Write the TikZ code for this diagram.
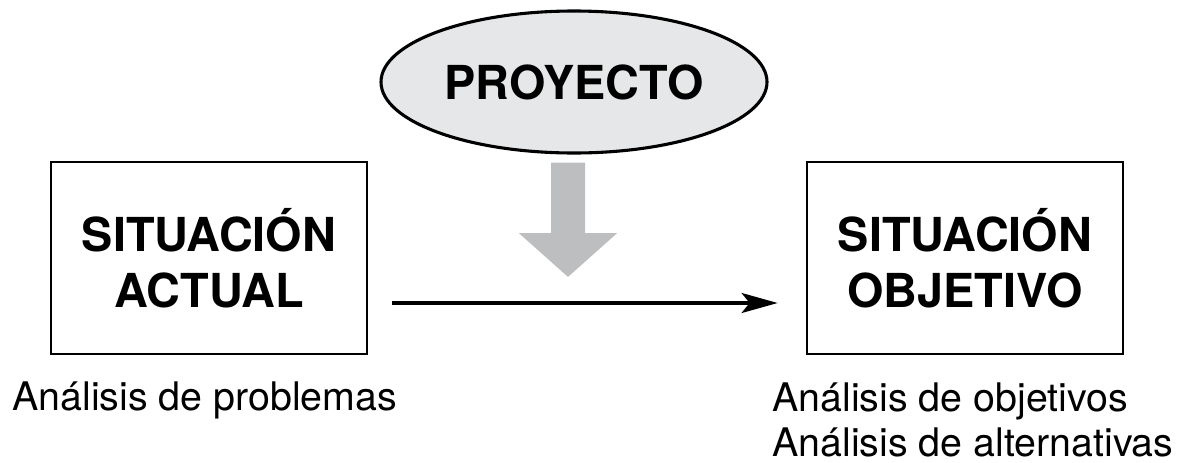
\documentclass[tikz,border=0pt]{standalone}
\usepackage{fontspec}
\setmainfont{TeX Gyre Heros}
\usepackage{tikz}
\usepackage{xcolor}
\usetikzlibrary{shapes.geometric, arrows.meta}

\definecolor{grisclaro}{HTML}{E6E7E8}
\definecolor{grisflecha}{HTML}{BCBEC0}

\begin{document}
\begin{tikzpicture}
            % Define styles
            \tikzstyle{proy} = [ellipse, draw=black, line width=2.2pt, fill=grisclaro, minimum width=9.65cm, minimum height=3.55cm, inner sep=0pt, font=\bfseries\fontsize{33.3}{40}\selectfont]
            \tikzstyle{situacion} = [rectangle, draw=black, line width=2pt, minimum width=7.9cm, minimum height=4.8cm, align=center, font=\bfseries\fontsize{33.3}{39.8}\selectfont]
            \tikzstyle{analisis} = [inner sep=0pt, align=left, font=\fontsize{28}{32}\selectfont]
            \tikzstyle{flecha} = [line width=2.2pt, -{Stealth[length=0.9cm, width=0.5cm, inset=0.2cm]}]
            \tikzstyle{flechagris} = [line width=0.85cm, draw=grisflecha, -{Triangle[length=1.1cm, width=2.4cm]}]

            \useasboundingbox (0,0) rectangle (29.5,-11.575);

            % Project on top
            \node (proyecto) [proy] at (14.35,-2.05) {PROYECTO};
            \coordinate (punta) at (14.2,-6.925);

            % The two situations
            \node (actual) [situacion] at (5.225,-6.45) {SITUACIÓN\\ACTUAL};
            \node (objetivo) [situacion] at (24.125,-6.45) {SITUACIÓN\\OBJETIVO};

            % Analyses below
            \node (problemas) [analisis, anchor=base west] at (0.3,-10.25) {Análisis de problemas};
            \node (objetivos) [analisis, anchor=base west] at (19.3,-11.4) {Análisis de objetivos\\Análisis de alternativas};

            % Arrows
            \draw [flechagris] ([xshift=-0.15cm, yshift=-0.2cm]proyecto.south) -- (punta);
            \draw [flecha] ([shift={(0.6cm,-1.125cm)}]actual.east) -- ([shift={(-0.7cm,-1.125cm)}]objetivo.west);
        \end{tikzpicture}
\end{document}
